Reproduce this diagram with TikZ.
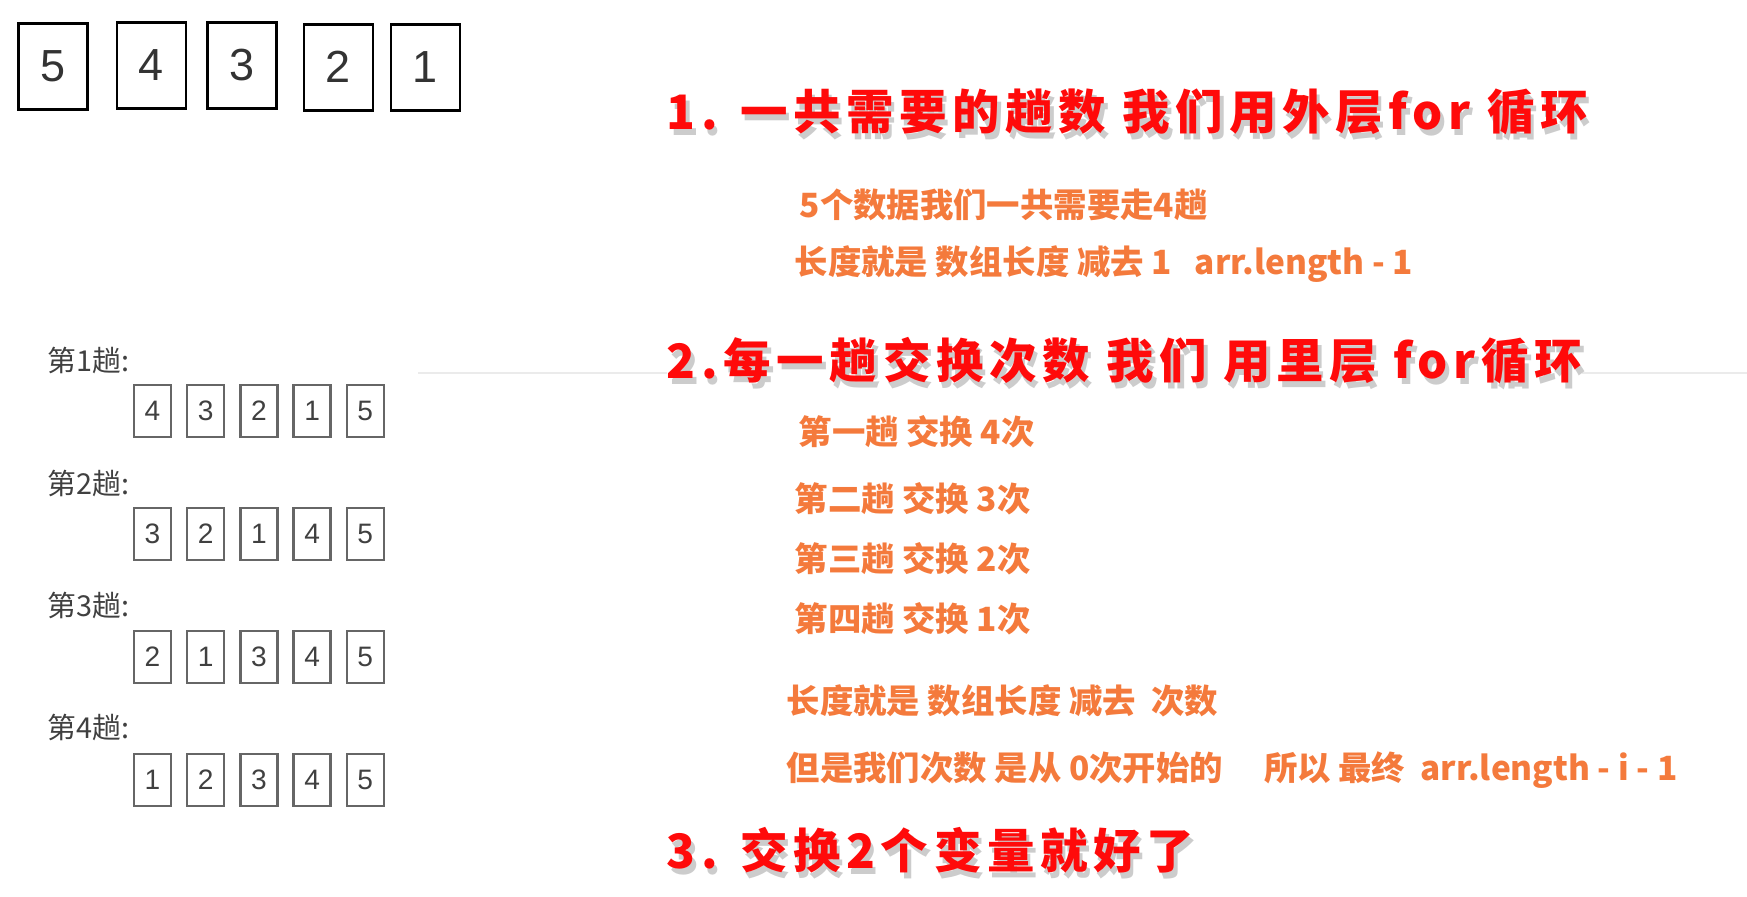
\documentclass[tikz,border=0pt]{standalone}
\usepackage{fontspec}
\setmainfont{Liberation Sans}
\newfontfamily\cjk{Noto Sans CJK SC}
\newfontfamily\cjkwide[LetterSpace=12]{Noto Sans CJK SC}
\usetikzlibrary{positioning}
\definecolor{headred}{HTML}{FF0A0A}
\definecolor{noteorange}{HTML}{F47A3C}
\definecolor{passgray}{HTML}{404040}
\definecolor{rulegray}{HTML}{EBEBEB}
\newcommand{\dropshadow}[1]{\makebox[0pt][l]{\kern1pt\raisebox{-1.7pt}{\color{black!20}#1}}#1}

\begin{document}
\begin{tikzpicture}[x=0.1mm,y=-0.1mm,
  bigcell/.style={draw=black,line width=0.85pt,minimum width=6.9mm,minimum height=8.6mm,inner sep=0pt,text=black!80,font=\fontsize{12.8}{14}\selectfont},
  cell/.style={draw=black!60,line width=0.7pt,minimum width=3.7mm,minimum height=5.2mm,inner sep=0pt,text=black!75,font=\fontsize{8}{9}\selectfont},
  passlabel/.style={anchor=west,inner sep=0pt,text=passgray,font=\cjk\fontsize{8.2}{9}\selectfont},
  headline/.style={anchor=west,inner sep=0pt,text=headred,font=\cjkwide\bfseries\fontsize{13.5}{16}\selectfont},
  noteline/.style={anchor=west,inner sep=0pt,text=noteorange,font=\cjk\bfseries\fontsize{9.5}{11}\selectfont}]
\useasboundingbox (0,0) rectangle (1747,896);
% the array before sorting
\foreach \v/\x/\y [count=\c] in {5/53/66,4/151.5/65,3/242/65,2/338.5/67,1/425.5/67}
  \node[bigcell] (top\c) at (\x,\y) {\v};
% one row per pass
\foreach \k/\seq in {1/{4,3,2,1,5},2/{3,2,1,4,5},3/{2,1,3,4,5},4/{1,2,3,4,5}} {
  \node[passlabel] (pass\k) at (47,{238.5+122.3*\k}) {第\k 趟:};
  \foreach \v [count=\c] in \seq
    \node[cell] (c\k\c) at ({99.3+53.2*\c},{288+123*\k}) {\v};
}
\draw[rulegray,line width=0.6pt] (418,373) -- (1747,373);
% outer loop
\node[headline] (h1) at (666,115) {\dropshadow{1. 一共需要的趟数 我们用外层for 循环}};
\node[noteline] (n1) at (799,205) {5个数据我们一共需要走4趟};
\node[noteline] (n2) at (794,264) {长度就是 数组长度 减去 1\ \ \ arr.length - 1};
% inner loop
\node[headline,fill=white] (h2) at (666,364) {\dropshadow{2.每一趟交换次数 我们 用里层 for循环}};
\node[noteline] (n3) at (798,432) {第一趟 交换 4次};
\node[noteline] (n4) at (794,499) {第二趟 交换 3次};
\node[noteline] (n5) at (794,559) {第三趟 交换 2次};
\node[noteline] (n6) at (794,619) {第四趟 交换 1次};
\node[noteline] (n7) at (786,701) {长度就是 数组长度 减去\ \ 次数};
\node[noteline] (n8) at (786,770) {但是我们次数 是从 0次开始的\quad\ 所以 最终\ \ arr.length - i - 1};
% swap
\node[headline] (h3) at (666,853) {\dropshadow{3. 交换2个变量就好了}};
\end{tikzpicture}
\end{document}
